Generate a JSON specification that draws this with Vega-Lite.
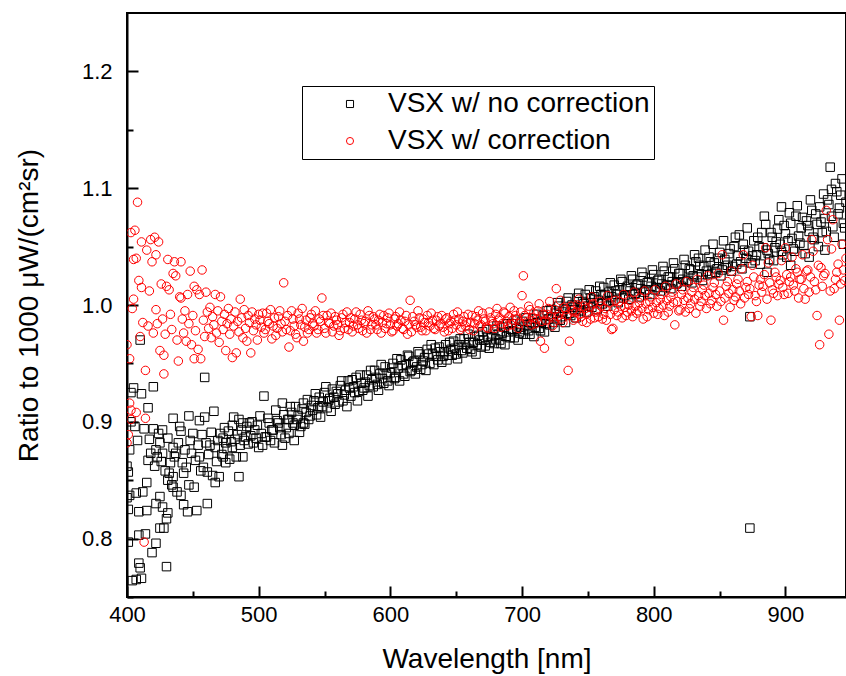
{
"$schema":"https://vega.github.io/schema/vega-lite/v6.json",
"width":719,"height":584,
"autosize":"none",
"padding":{"left":127,"top":13,"right":0,"bottom":79},
"background":"white",
"config":{"view":{"stroke":"black","strokeWidth":2},"font":"Liberation Sans",
"axis":{"grid":false,"domainColor":"black","domainWidth":2,"tickColor":"black","tickWidth":2,"labelFont":"Liberation Sans","labelFontSize":22,"labelColor":"black","titleFont":"Liberation Sans","titleFontSize":28,"titleFontWeight":"normal","titleColor":"black","labelFlush":false,"labelOverlap":false}},
"resolve":{"axis":{"x":"independent","y":"independent"}},
"datasets":{
"nocorr":[
{"w":400,"r":0.835},{"w":400,"r":0.862},{"w":401,"r":0.857},{"w":401,"r":0.825},{"w":401,"r":0.797},{"w":402,"r":0.837},{"w":402,"r":0.876},{"w":403,"r":0.925},{"w":403,"r":0.900},{"w":404,"r":0.764},{"w":405,"r":0.929},{"w":406,"r":0.896},{"w":407,"r":0.839},{"w":407,"r":0.765},{"w":408,"r":0.884},{"w":409,"r":0.823},{"w":409,"r":0.803},{"w":409,"r":0.779},{"w":410,"r":0.970},{"w":410,"r":0.775},{"w":411,"r":0.924},{"w":411,"r":0.766},{"w":412,"r":0.840},{"w":413,"r":0.894},{"w":414,"r":0.804},{"w":415,"r":0.824},{"w":415,"r":0.848},{"w":416,"r":0.912},{"w":416,"r":0.867},{"w":417,"r":0.885},{"w":418,"r":0.873},{"w":419,"r":0.788},{"w":420,"r":0.930},{"w":420,"r":0.894},{"w":421,"r":0.862},{"w":422,"r":0.830},{"w":422,"r":0.876},{"w":422,"r":0.796},{"w":423,"r":0.870},{"w":424,"r":0.890},{"w":425,"r":0.882},{"w":425,"r":0.836},{"w":425,"r":0.809},{"w":426,"r":0.866},{"w":427,"r":0.893},{"w":427,"r":0.873},{"w":427,"r":0.827},{"w":428,"r":0.809},{"w":429,"r":0.858},{"w":430,"r":0.817},{"w":430,"r":0.776},{"w":431,"r":0.886},{"w":431,"r":0.850},{"w":431,"r":0.822},{"w":432,"r":0.856},{"w":433,"r":0.865},{"w":434,"r":0.846},{"w":435,"r":0.903},{"w":435,"r":0.878},{"w":435,"r":0.853},{"w":435,"r":0.844},{"w":436,"r":0.870},{"w":437,"r":0.873},{"w":438,"r":0.840},{"w":439,"r":0.882},{"w":440,"r":0.896},{"w":441,"r":0.892},{"w":441,"r":0.837},{"w":442,"r":0.865},{"w":443,"r":0.856},{"w":443,"r":0.829},{"w":444,"r":0.876},{"w":445,"r":0.861},{"w":446,"r":0.823},{"w":447,"r":0.905},{"w":447,"r":0.846},{"w":448,"r":0.884},{"w":449,"r":0.873},{"w":450,"r":0.890},{"w":451,"r":0.844},{"w":452,"r":0.867},{"w":453,"r":0.824},{"w":454,"r":0.880},{"w":455,"r":0.901},{"w":455,"r":0.870},{"w":456,"r":0.858},{"w":457,"r":0.889},{"w":458,"r":0.861},{"w":459,"r":0.938},{"w":459,"r":0.904},{"w":460,"r":0.882},{"w":461,"r":0.857},{"w":461,"r":0.830},{"w":462,"r":0.872},{"w":463,"r":0.880},{"w":464,"r":0.891},{"w":465,"r":0.854},{"w":466,"r":0.909},{"w":467,"r":0.878},{"w":467,"r":0.848},{"w":468,"r":0.866},{"w":469,"r":0.884},{"w":470,"r":0.853},{"w":471,"r":0.890},{"w":472,"r":0.872},{"w":473,"r":0.886},{"w":473,"r":0.870},{"w":474,"r":0.895},{"w":475,"r":0.882},{"w":475,"r":0.865},{"w":476,"r":0.877},{"w":477,"r":0.892},{"w":478,"r":0.868},{"w":479,"r":0.883},{"w":480,"r":0.878},{"w":480,"r":0.897},{"w":481,"r":0.904},{"w":482,"r":0.885},{"w":483,"r":0.870},{"w":484,"r":0.889},{"w":485,"r":0.902},{"w":485,"r":0.853},{"w":486,"r":0.880},{"w":487,"r":0.893},{"w":488,"r":0.899},{"w":488,"r":0.870},{"w":489,"r":0.884},{"w":490,"r":0.887},{"w":491,"r":0.896},{"w":492,"r":0.881},{"w":493,"r":0.899},{"w":494,"r":0.888},{"w":495,"r":0.900},{"w":496,"r":0.882},{"w":497,"r":0.893},{"w":498,"r":0.886},{"w":499,"r":0.897},{"w":500,"r":0.878},
{"w":502,"r":0.890},{"w":504,"r":0.922},{"w":506,"r":0.887},{"w":508,"r":0.899},{"w":510,"r":0.893},{"w":512,"r":0.882},{"w":514,"r":0.901},{"w":516,"r":0.895},{"w":518,"r":0.916},{"w":518,"r":0.880},{"w":520,"r":0.886},{"w":522,"r":0.902},{"w":523,"r":0.902},{"w":524,"r":0.913},{"w":526,"r":0.899},{"w":527,"r":0.884},{"w":528,"r":0.913},{"w":530,"r":0.905},{"w":532,"r":0.896},{"w":534,"r":0.916},{"w":534,"r":0.899},{"w":536,"r":0.908},{"w":538,"r":0.902},{"w":540,"r":0.914},
{"w":542,"r":0.918},{"w":544,"r":0.906},{"w":546,"r":0.921},{"w":548,"r":0.913},{"w":550,"r":0.925},{"w":552,"r":0.912},{"w":554,"r":0.920},{"w":556,"r":0.928},{"w":558,"r":0.915},{"w":560,"r":0.924},{"w":562,"r":0.931},{"w":564,"r":0.918},{"w":566,"r":0.927},{"w":568,"r":0.935},{"w":570,"r":0.922},{"w":572,"r":0.930},{"w":574,"r":0.938},{"w":576,"r":0.926},{"w":578,"r":0.933},{"w":580,"r":0.929},{"w":582,"r":0.940},{"w":584,"r":0.931},{"w":586,"r":0.936},{"w":588,"r":0.944},{"w":590,"r":0.932},{"w":592,"r":0.941},{"w":594,"r":0.937},{"w":596,"r":0.947},{"w":598,"r":0.935},{"w":600,"r":0.942},{"w":602,"r":0.950},{"w":604,"r":0.938},{"w":606,"r":0.946},{"w":608,"r":0.953},{"w":610,"r":0.941},{"w":612,"r":0.949},{"w":614,"r":0.956},{"w":616,"r":0.944},{"w":618,"r":0.952},{"w":620,"r":0.947},{"w":622,"r":0.958},{"w":624,"r":0.949},{"w":626,"r":0.955},{"w":628,"r":0.962},{"w":630,"r":0.950},{"w":632,"r":0.958},{"w":634,"r":0.963},{"w":636,"r":0.953},{"w":638,"r":0.960},{"w":640,"r":0.956},{"w":642,"r":0.966},{"w":644,"r":0.957},{"w":646,"r":0.962},{"w":648,"r":0.969},{"w":650,"r":0.958},{"w":652,"r":0.966},{"w":654,"r":0.961},{"w":656,"r":0.971},{"w":658,"r":0.963},{"w":660,"r":0.968},{"w":662,"r":0.960},{"w":664,"r":0.973},{"w":666,"r":0.966},{"w":668,"r":0.970},{"w":670,"r":0.977},{"w":672,"r":0.965},{"w":674,"r":0.973},{"w":676,"r":0.968},{"w":678,"r":0.979},{"w":680,"r":0.971},{"w":682,"r":0.975},{"w":684,"r":0.967},{"w":686,"r":0.981},{"w":688,"r":0.973},{"w":690,"r":0.977},{"w":692,"r":0.984},{"w":694,"r":0.972},{"w":696,"r":0.980},{"w":698,"r":0.976},{"w":700,"r":0.986},{"w":702,"r":0.979},{"w":704,"r":0.983},{"w":706,"r":0.975},{"w":708,"r":0.988},{"w":710,"r":0.981},{"w":712,"r":0.985},{"w":714,"r":0.978},{"w":716,"r":0.991},{"w":718,"r":0.984},{"w":720,"r":0.988},{"w":722,"r":0.996},{"w":724,"r":0.985},{"w":726,"r":0.993},{"w":728,"r":0.999},{"w":730,"r":0.990},{"w":732,"r":0.997},{"w":734,"r":1.003},{"w":736,"r":0.993},{"w":738,"r":1.000},{"w":740,"r":0.996},{"w":742,"r":1.006},{"w":744,"r":0.998},{"w":746,"r":1.003},{"w":748,"r":1.009},{"w":750,"r":0.999},{"w":752,"r":1.006},{"w":754,"r":1.002},{"w":756,"r":1.012},{"w":758,"r":1.004},{"w":760,"r":1.009},{"w":762,"r":1.015},{"w":764,"r":1.003},{"w":766,"r":1.011},{"w":768,"r":1.007},{"w":770,"r":1.017},{"w":772,"r":1.009},{"w":774,"r":1.013},{"w":776,"r":1.020},{"w":778,"r":1.008},{"w":780,"r":1.016},{"w":782,"r":1.012},{"w":784,"r":1.022},{"w":786,"r":1.010},{"w":788,"r":1.018},{"w":790,"r":1.014},{"w":792,"r":1.024},{"w":794,"r":1.013},{"w":796,"r":1.020},{"w":798,"r":1.016},{"w":800,"r":1.026},{"w":802,"r":1.015},{"w":804,"r":1.022},{"w":806,"r":1.018},{"w":808,"r":1.029},{"w":810,"r":1.017},{"w":812,"r":1.024},{"w":814,"r":1.020},{"w":816,"r":1.031},{"w":818,"r":1.019},{"w":820,"r":1.027},{"w":822,"r":1.022},{"w":824,"r":1.034},{"w":826,"r":1.021},{"w":828,"r":1.030},{"w":830,"r":1.025},{"w":832,"r":1.037},{"w":834,"r":1.040},{"w":836,"r":1.026},{"w":838,"r":1.033},{"w":840,"r":1.029},{"w":842,"r":1.041},{"w":844,"r":1.027},{"w":846,"r":1.036},{"w":848,"r":1.031},{"w":850,"r":1.045},{"w":852,"r":1.030},{"w":854,"r":1.039},{"w":856,"r":1.034},{"w":858,"r":1.048},{"w":860,"r":1.033},{"w":862,"r":1.058},{"w":864,"r":1.042},{"w":866,"r":1.037},{"w":868,"r":1.052},{"w":870,"r":1.040},{"w":872,"r":1.046},{"w":873,"r":0.809},{"w":873,"r":0.990},{"w":874,"r":1.036},{"w":876,"r":1.055},{"w":878,"r":1.043},{"w":880,"r":1.050},{"w":882,"r":1.062},{"w":884,"r":1.076},{"w":886,"r":1.047},{"w":886,"r":1.028},{"w":888,"r":1.039},{"w":890,"r":1.058},{"w":892,"r":1.049},{"w":894,"r":1.065},{"w":896,"r":1.052},{"w":897,"r":1.084},{"w":898,"r":1.043},{"w":900,"r":1.061},{"w":902,"r":1.055},{"w":904,"r":1.070},{"w":904,"r":1.034},{"w":906,"r":1.048},{"w":908,"r":1.076},{"w":910,"r":1.059},{"w":912,"r":1.066},{"w":914,"r":1.051},{"w":916,"r":1.072},{"w":918,"r":1.063},{"w":918,"r":1.041},{"w":920,"r":1.081},{"w":922,"r":1.056},{"w":924,"r":1.069},{"w":926,"r":1.084},{"w":928,"r":1.062},{"w":930,"r":1.074},{"w":930,"r":1.047},{"w":932,"r":1.090},{"w":934,"r":1.118},{"w":935,"r":1.099},{"w":936,"r":1.067},{"w":938,"r":1.104},{"w":940,"r":1.078},{"w":942,"r":1.094},{"w":944,"r":1.070},{"w":944,"r":1.052},{"w":946,"r":1.088},
{"w":501,"r":0.905},{"w":503,"r":0.880},{"w":505,"r":0.887},{"w":507,"r":0.903},{"w":509,"r":0.884},{"w":511,"r":0.893},{"w":513,"r":0.910},{"w":515,"r":0.899},{"w":517,"r":0.889},{"w":519,"r":0.906},{"w":521,"r":0.895},{"w":523,"r":0.890},{"w":525,"r":0.908},{"w":527,"r":0.897},{"w":529,"r":0.902},{"w":531,"r":0.891},{"w":533,"r":0.911},{"w":535,"r":0.898},{"w":537,"r":0.919},{"w":539,"r":0.905},{"w":541,"r":0.910},{"w":543,"r":0.924},{"w":545,"r":0.912},{"w":547,"r":0.904},{"w":549,"r":0.917},{"w":551,"r":0.930},{"w":553,"r":0.918},{"w":555,"r":0.909},{"w":557,"r":0.921},{"w":559,"r":0.926},{"w":561,"r":0.917},{"w":563,"r":0.935},{"w":565,"r":0.923},{"w":567,"r":0.913},{"w":569,"r":0.929},{"w":571,"r":0.936},{"w":573,"r":0.925},{"w":575,"r":0.918},{"w":577,"r":0.940},{"w":579,"r":0.927},{"w":581,"r":0.934},{"w":583,"r":0.922},{"w":585,"r":0.944},{"w":587,"r":0.930},{"w":589,"r":0.938},{"w":591,"r":0.927},{"w":593,"r":0.949},{"w":595,"r":0.933},{"w":597,"r":0.941},{"w":599,"r":0.931},{"w":601,"r":0.946},{"w":603,"r":0.937},{"w":605,"r":0.954},{"w":607,"r":0.935},{"w":609,"r":0.948},{"w":611,"r":0.939},{"w":613,"r":0.957},{"w":615,"r":0.943},{"w":617,"r":0.951},{"w":619,"r":0.941},{"w":621,"r":0.960},{"w":623,"r":0.945},{"w":625,"r":0.952},{"w":627,"r":0.944},{"w":629,"r":0.958},{"w":631,"r":0.966},{"w":633,"r":0.949},{"w":635,"r":0.956},{"w":637,"r":0.964},{"w":639,"r":0.951},{"w":641,"r":0.960},{"w":643,"r":0.953},{"w":645,"r":0.968},{"w":647,"r":0.957},{"w":649,"r":0.963},{"w":651,"r":0.954},{"w":653,"r":0.971},{"w":655,"r":0.959},{"w":657,"r":0.966},{"w":659,"r":0.975},{"w":661,"r":0.962},{"w":663,"r":0.968},{"w":665,"r":0.958},{"w":667,"r":0.974},{"w":669,"r":0.964},{"w":671,"r":0.970},{"w":673,"r":0.979},{"w":675,"r":0.963},{"w":677,"r":0.973},{"w":679,"r":0.967},{"w":681,"r":0.982},{"w":683,"r":0.970},{"w":685,"r":0.976},{"w":687,"r":0.966},{"w":689,"r":0.984},{"w":691,"r":0.972},{"w":693,"r":0.978},{"w":695,"r":0.987},{"w":697,"r":0.970},{"w":699,"r":0.981},{"w":701,"r":0.975},{"w":703,"r":0.989},{"w":705,"r":0.978},{"w":707,"r":0.984},{"w":709,"r":0.973},{"w":711,"r":0.992},{"w":713,"r":0.980},{"w":715,"r":0.986},{"w":717,"r":0.977},{"w":719,"r":0.995},{"w":721,"r":0.983},{"w":723,"r":0.990},{"w":725,"r":0.981},{"w":727,"r":1.002},{"w":729,"r":0.987},{"w":731,"r":0.994},{"w":733,"r":0.985},{"w":735,"r":1.006},{"w":737,"r":0.991},{"w":739,"r":0.998},{"w":741,"r":0.989},{"w":743,"r":1.010},{"w":745,"r":0.995},{"w":747,"r":1.001},{"w":749,"r":0.994},{"w":751,"r":1.013},{"w":753,"r":0.998},{"w":755,"r":1.007},{"w":757,"r":0.996},{"w":759,"r":1.016},{"w":761,"r":1.001},{"w":763,"r":1.009},{"w":765,"r":0.999},{"w":767,"r":1.019},{"w":769,"r":1.004},{"w":771,"r":1.012},{"w":773,"r":1.002},{"w":775,"r":1.022},{"w":777,"r":1.006},{"w":779,"r":1.014},{"w":781,"r":1.005},{"w":783,"r":1.025},{"w":785,"r":1.009},{"w":787,"r":1.017},{"w":789,"r":1.007},{"w":791,"r":1.028},{"w":793,"r":1.011},{"w":795,"r":1.019},{"w":797,"r":1.009},{"w":799,"r":1.030},{"w":801,"r":1.013},{"w":803,"r":1.021},{"w":805,"r":1.012},{"w":807,"r":1.033},{"w":809,"r":1.015},{"w":811,"r":1.024},{"w":813,"r":1.014},{"w":815,"r":1.036},{"w":817,"r":1.018},{"w":819,"r":1.027},{"w":821,"r":1.016},{"w":823,"r":1.039},{"w":825,"r":1.020},{"w":827,"r":1.031},{"w":829,"r":1.019},{"w":831,"r":1.043},{"w":833,"r":1.024},{"w":835,"r":1.034},{"w":837,"r":1.021},{"w":839,"r":1.047},{"w":841,"r":1.026},{"w":843,"r":1.037},{"w":845,"r":1.052},{"w":847,"r":1.028},{"w":849,"r":1.040},{"w":851,"r":1.025},{"w":853,"r":1.055},{"w":855,"r":1.032},{"w":857,"r":1.044},{"w":859,"r":1.029},{"w":861,"r":1.050},{"w":863,"r":1.035},{"w":865,"r":1.060},{"w":867,"r":1.031},{"w":869,"r":1.047},{"w":871,"r":1.066},{"w":875,"r":1.042},{"w":877,"r":1.038},{"w":879,"r":1.058},{"w":881,"r":1.035},{"w":883,"r":1.049},{"w":885,"r":1.069},{"w":887,"r":1.044},{"w":889,"r":1.062},{"w":891,"r":1.038},{"w":893,"r":1.054},{"w":895,"r":1.073},{"w":897,"r":1.046},{"w":899,"r":1.068},{"w":901,"r":1.041},{"w":903,"r":1.079},{"w":905,"r":1.057},{"w":907,"r":1.046},{"w":909,"r":1.085},{"w":911,"r":1.053},{"w":913,"r":1.075},{"w":915,"r":1.044},{"w":917,"r":1.068},{"w":919,"r":1.090},{"w":921,"r":1.058},{"w":923,"r":1.078},{"w":925,"r":1.050},{"w":927,"r":1.071},{"w":929,"r":1.095},{"w":931,"r":1.063},{"w":933,"r":1.086},{"w":935,"r":1.076},{"w":937,"r":1.058},{"w":939,"r":1.097},{"w":941,"r":1.083},{"w":943,"r":1.108},{"w":945,"r":1.066}
],
"corr":[
{"w":400,"r":0.882},{"w":400,"r":0.966},{"w":401,"r":0.889},{"w":402,"r":0.954},{"w":402,"r":0.916},{"w":403,"r":0.910},{"w":403,"r":0.902},{"w":403,"r":1.062},{"w":404,"r":0.997},{"w":405,"r":1.005},{"w":405,"r":1.039},{"w":406,"r":1.064},{"w":407,"r":1.040},{"w":407,"r":0.908},{"w":408,"r":1.088},{"w":409,"r":1.021},{"w":410,"r":0.973},{"w":411,"r":1.015},{"w":411,"r":1.054},{"w":412,"r":0.985},{"w":413,"r":0.797},{"w":414,"r":0.944},{"w":414,"r":0.903},{"w":415,"r":1.047},{"w":416,"r":0.982},{"w":417,"r":1.012},{"w":418,"r":1.056},{"w":419,"r":1.037},{"w":420,"r":0.976},{"w":421,"r":1.058},{"w":422,"r":1.043},{"w":422,"r":0.996},{"w":423,"r":0.984},{"w":424,"r":1.054},{"w":425,"r":0.961},{"w":426,"r":1.018},{"w":427,"r":0.988},{"w":428,"r":0.941},{"w":428,"r":0.957},{"w":429,"r":0.975},{"w":430,"r":1.016},{"w":431,"r":1.039},{"w":432,"r":1.013},{"w":433,"r":0.992},{"w":434,"r":0.979},{"w":435,"r":1.027},{"w":436,"r":1.037},{"w":437,"r":1.025},{"w":438,"r":0.970},{"w":439,"r":0.952},{"w":440,"r":1.007},{"w":441,"r":1.037},{"w":441,"r":1.006},{"w":442,"r":0.988},{"w":443,"r":0.976},{"w":444,"r":0.995},{"w":445,"r":0.969},{"w":446,"r":1.009},{"w":447,"r":0.984},{"w":448,"r":1.029},{"w":449,"r":0.966},{"w":450,"r":0.991},{"w":451,"r":1.016},{"w":451,"r":0.954},{"w":452,"r":0.978},{"w":453,"r":1.013},{"w":454,"r":0.962},{"w":455,"r":1.009},{"w":456,"r":0.954},{"w":457,"r":1.030},{"w":458,"r":0.987},{"w":459,"r":0.973},{"w":460,"r":1.011},{"w":461,"r":0.994},{"w":462,"r":0.980},{"w":463,"r":0.998},{"w":464,"r":0.972},{"w":465,"r":0.990},{"w":466,"r":0.983},{"w":467,"r":1.009},{"w":468,"r":0.976},{"w":469,"r":0.995},{"w":470,"r":0.968},{"w":471,"r":1.007},{"w":472,"r":0.986},{"w":473,"r":0.979},{"w":474,"r":0.992},{"w":475,"r":0.961},{"w":476,"r":0.984},{"w":477,"r":0.997},{"w":478,"r":0.975},{"w":479,"r":0.988},{"w":480,"r":0.955},{"w":481,"r":0.982},{"w":482,"r":0.994},{"w":483,"r":0.959},{"w":484,"r":0.986},{"w":485,"r":0.977},{"w":486,"r":1.005},{"w":487,"r":0.989},{"w":488,"r":0.972},{"w":489,"r":0.996},{"w":490,"r":0.980},{"w":491,"r":0.969},{"w":492,"r":0.991},{"w":493,"r":0.985},{"w":494,"r":0.959},{"w":495,"r":0.994},{"w":496,"r":0.978},{"w":497,"r":0.988},{"w":498,"r":0.983},{"w":499,"r":0.970},{"w":500,"r":0.992},
{"w":502,"r":0.981},{"w":504,"r":0.976},{"w":506,"r":0.993},{"w":508,"r":0.984},{"w":510,"r":0.971},{"w":512,"r":0.989},{"w":514,"r":0.980},{"w":516,"r":0.995},{"w":518,"r":0.977},{"w":519,"r":1.019},{"w":520,"r":0.986},{"w":522,"r":0.991},{"w":523,"r":0.964},{"w":524,"r":0.978},{"w":526,"r":0.988},{"w":528,"r":0.975},{"w":530,"r":0.993},{"w":532,"r":0.983},{"w":534,"r":0.969},{"w":536,"r":0.987},{"w":538,"r":0.979},{"w":540,"r":0.992},{"w":542,"r":0.982},{"w":544,"r":0.976},{"w":546,"r":0.988},{"w":548,"r":1.006},{"w":550,"r":0.980},{"w":552,"r":0.991},{"w":554,"r":0.984},{"w":556,"r":0.977},{"w":558,"r":0.990},{"w":560,"r":0.983},{"w":562,"r":0.978},{"w":564,"r":0.992},{"w":566,"r":0.985},{"w":568,"r":0.979},{"w":570,"r":0.989},{"w":572,"r":0.982},{"w":574,"r":0.994},{"w":576,"r":0.980},{"w":578,"r":0.987},{"w":580,"r":0.984},{"w":582,"r":0.976},{"w":584,"r":0.991},{"w":586,"r":0.983},{"w":588,"r":0.988},{"w":590,"r":0.979},{"w":592,"r":0.992},{"w":594,"r":0.985},{"w":596,"r":0.980},{"w":598,"r":0.989},{"w":600,"r":0.983},{"w":602,"r":0.978},{"w":604,"r":0.990},{"w":606,"r":0.984},{"w":608,"r":0.987},{"w":610,"r":0.979},{"w":612,"r":0.991},{"w":614,"r":0.983},{"w":615,"r":1.004},{"w":616,"r":0.977},{"w":618,"r":0.986},{"w":620,"r":0.981},{"w":622,"r":0.989},{"w":624,"r":0.978},{"w":626,"r":0.985},{"w":628,"r":0.991},{"w":630,"r":0.982},{"w":632,"r":0.987},{"w":634,"r":0.979},{"w":636,"r":0.990},{"w":638,"r":0.984},{"w":640,"r":0.981},{"w":642,"r":0.988},{"w":644,"r":0.978},{"w":646,"r":0.986},{"w":648,"r":0.992},{"w":650,"r":0.983},{"w":652,"r":0.988},{"w":654,"r":0.981},{"w":656,"r":0.990},{"w":658,"r":0.985},{"w":660,"r":0.979},{"w":662,"r":0.991},{"w":664,"r":0.984},{"w":666,"r":0.987},{"w":668,"r":0.982},{"w":670,"r":0.993},{"w":672,"r":0.986},{"w":674,"r":0.980},{"w":676,"r":0.989},{"w":678,"r":0.984},{"w":680,"r":0.992},{"w":682,"r":0.987},{"w":684,"r":0.981},{"w":686,"r":0.994},{"w":688,"r":0.986},{"w":690,"r":0.990},{"w":692,"r":0.983},{"w":694,"r":0.995},{"w":696,"r":0.988},{"w":698,"r":0.984},{"w":700,"r":1.008},{"w":701,"r":1.025},{"w":702,"r":0.991},{"w":704,"r":0.986},{"w":706,"r":0.996},{"w":708,"r":0.989},{"w":710,"r":0.984},{"w":712,"r":0.995},{"w":714,"r":0.969},{"w":716,"r":0.992},{"w":717,"r":0.963},{"w":718,"r":0.987},{"w":720,"r":0.997},{"w":722,"r":0.990},{"w":724,"r":0.985},{"w":726,"r":1.014},{"w":728,"r":0.993},{"w":730,"r":0.988},{"w":732,"r":0.998},{"w":734,"r":0.991},{"w":735,"r":0.944},{"w":736,"r":0.969},{"w":738,"r":0.995},{"w":740,"r":0.989},{"w":742,"r":1.000},{"w":744,"r":0.992},{"w":746,"r":0.986},{"w":748,"r":0.997},{"w":750,"r":0.993},{"w":752,"r":0.988},{"w":754,"r":1.001},{"w":756,"r":0.994},{"w":758,"r":0.990},{"w":760,"r":0.999},{"w":762,"r":0.992},{"w":764,"r":0.987},{"w":766,"r":1.002},{"w":768,"r":0.979},{"w":770,"r":0.996},{"w":772,"r":0.991},{"w":774,"r":1.003},{"w":776,"r":0.989},{"w":778,"r":0.998},{"w":780,"r":0.994},{"w":782,"r":1.004},{"w":784,"r":0.990},{"w":786,"r":0.999},{"w":788,"r":0.995},{"w":790,"r":1.006},{"w":792,"r":0.988},{"w":794,"r":1.001},{"w":796,"r":0.996},{"w":798,"r":1.007},{"w":800,"r":0.993},{"w":802,"r":1.002},{"w":804,"r":0.997},{"w":806,"r":1.009},{"w":808,"r":0.991},{"w":810,"r":1.004},{"w":812,"r":0.999},{"w":814,"r":1.011},{"w":816,"r":0.983},{"w":818,"r":1.003},{"w":820,"r":0.996},{"w":822,"r":1.013},{"w":824,"r":0.994},{"w":826,"r":1.006},{"w":828,"r":1.001},{"w":830,"r":1.015},{"w":832,"r":0.993},{"w":834,"r":1.008},{"w":836,"r":1.003},{"w":838,"r":1.017},{"w":840,"r":0.997},{"w":842,"r":1.010},{"w":844,"r":1.004},{"w":846,"r":1.019},{"w":848,"r":0.999},{"w":850,"r":1.012},{"w":852,"r":1.043},{"w":853,"r":0.987},{"w":854,"r":1.006},{"w":856,"r":1.020},{"w":858,"r":0.998},{"w":860,"r":1.013},{"w":862,"r":1.007},{"w":864,"r":1.022},{"w":866,"r":1.001},{"w":868,"r":1.043},{"w":870,"r":1.015},{"w":872,"r":1.009},{"w":874,"r":0.990},{"w":876,"r":1.024},{"w":878,"r":1.003},{"w":879,"r":0.991},{"w":880,"r":1.017},{"w":882,"r":1.011},{"w":884,"r":1.026},{"w":885,"r":1.049},{"w":886,"r":1.005},{"w":888,"r":1.019},{"w":889,"r":0.987},{"w":890,"r":1.013},{"w":892,"r":1.028},{"w":894,"r":1.008},{"w":896,"r":1.021},{"w":898,"r":1.015},{"w":900,"r":1.049},{"w":902,"r":1.010},{"w":904,"r":1.024},{"w":906,"r":1.017},{"w":908,"r":1.031},{"w":910,"r":1.006},{"w":912,"r":1.022},{"w":914,"r":1.014},{"w":916,"r":1.029},{"w":918,"r":1.011},{"w":920,"r":1.056},{"w":922,"r":1.020},{"w":924,"r":0.991},{"w":925,"r":1.034},{"w":926,"r":0.966},{"w":928,"r":1.016},{"w":930,"r":1.027},{"w":931,"r":1.081},{"w":932,"r":1.056},{"w":933,"r":0.975},{"w":934,"r":1.012},{"w":936,"r":1.073},{"w":938,"r":1.022},{"w":940,"r":1.035},{"w":941,"r":0.987},{"w":942,"r":1.018},{"w":944,"r":1.030},{"w":946,"r":1.040},
{"w":501,"r":0.987},{"w":503,"r":0.993},{"w":505,"r":0.979},{"w":507,"r":0.986},{"w":509,"r":0.996},{"w":511,"r":0.982},{"w":513,"r":0.974},{"w":515,"r":0.990},{"w":517,"r":0.984},{"w":521,"r":0.979},{"w":525,"r":0.995},{"w":527,"r":0.982},{"w":529,"r":0.972},{"w":531,"r":0.988},{"w":533,"r":0.997},{"w":535,"r":0.981},{"w":537,"r":0.976},{"w":539,"r":0.989},{"w":541,"r":0.984},{"w":543,"r":0.995},{"w":545,"r":0.979},{"w":547,"r":0.986},{"w":549,"r":0.991},{"w":551,"r":0.976},{"w":553,"r":0.985},{"w":555,"r":0.993},{"w":557,"r":0.982},{"w":559,"r":0.987},{"w":561,"r":0.974},{"w":563,"r":0.989},{"w":565,"r":0.980},{"w":567,"r":0.994},{"w":569,"r":0.985},{"w":571,"r":0.977},{"w":573,"r":0.988},{"w":575,"r":0.983},{"w":577,"r":0.992},{"w":579,"r":0.978},{"w":581,"r":0.986},{"w":583,"r":0.995},{"w":585,"r":0.979},{"w":587,"r":0.990},{"w":589,"r":0.983},{"w":591,"r":0.987},{"w":593,"r":0.976},{"w":595,"r":0.991},{"w":597,"r":0.984},{"w":599,"r":0.993},{"w":601,"r":0.977},{"w":603,"r":0.988},{"w":605,"r":0.982},{"w":607,"r":0.994},{"w":609,"r":0.980},{"w":611,"r":0.986},{"w":613,"r":0.975},{"w":617,"r":0.990},{"w":619,"r":0.983},{"w":621,"r":0.995},{"w":623,"r":0.981},{"w":625,"r":0.988},{"w":627,"r":0.978},{"w":629,"r":0.985},{"w":631,"r":0.993},{"w":633,"r":0.980},{"w":635,"r":0.987},{"w":637,"r":0.982},{"w":639,"r":0.991},{"w":641,"r":0.977},{"w":643,"r":0.989},{"w":645,"r":0.984},{"w":647,"r":0.980},{"w":649,"r":0.987},{"w":651,"r":0.994},{"w":653,"r":0.979},{"w":655,"r":0.986},{"w":657,"r":0.982},{"w":659,"r":0.992},{"w":661,"r":0.985},{"w":663,"r":0.978},{"w":665,"r":0.990},{"w":667,"r":0.995},{"w":669,"r":0.983},{"w":671,"r":0.988},{"w":673,"r":0.981},{"w":675,"r":0.994},{"w":677,"r":0.986},{"w":679,"r":0.980},{"w":681,"r":0.997},{"w":683,"r":0.989},{"w":685,"r":0.984},{"w":687,"r":0.993},{"w":689,"r":0.982},{"w":691,"r":0.998},{"w":693,"r":0.987},{"w":695,"r":0.991},{"w":697,"r":0.980},{"w":699,"r":0.994},{"w":703,"r":0.989},{"w":705,"r":0.999},{"w":707,"r":0.983},{"w":709,"r":0.993},{"w":711,"r":0.988},{"w":713,"r":1.001},{"w":715,"r":0.986},{"w":719,"r":0.992},{"w":721,"r":1.003},{"w":723,"r":0.982},{"w":725,"r":0.996},{"w":727,"r":0.990},{"w":729,"r":1.004},{"w":731,"r":0.985},{"w":733,"r":0.996},{"w":737,"r":0.999},{"w":739,"r":0.987},{"w":741,"r":0.994},{"w":743,"r":1.005},{"w":745,"r":0.990},{"w":747,"r":0.999},{"w":749,"r":0.985},{"w":751,"r":0.998},{"w":753,"r":1.007},{"w":755,"r":0.989},{"w":757,"r":0.996},{"w":759,"r":1.003},{"w":761,"r":0.988},{"w":763,"r":0.997},{"w":765,"r":1.008},{"w":767,"r":0.992},{"w":769,"r":0.980},{"w":771,"r":1.004},{"w":773,"r":0.994},{"w":775,"r":0.999},{"w":777,"r":1.009},{"w":779,"r":0.991},{"w":781,"r":1.000},{"w":783,"r":0.995},{"w":785,"r":1.011},{"w":787,"r":0.993},{"w":789,"r":1.002},{"w":791,"r":0.997},{"w":793,"r":1.012},{"w":795,"r":0.990},{"w":797,"r":1.003},{"w":799,"r":0.998},{"w":801,"r":1.013},{"w":803,"r":0.992},{"w":805,"r":1.005},{"w":807,"r":1.000},{"w":809,"r":1.016},{"w":811,"r":0.994},{"w":813,"r":1.007},{"w":815,"r":1.002},{"w":817,"r":1.018},{"w":819,"r":0.995},{"w":821,"r":1.009},{"w":823,"r":1.004},{"w":825,"r":1.020},{"w":827,"r":0.997},{"w":829,"r":1.011},{"w":831,"r":1.005},{"w":833,"r":1.022},{"w":835,"r":0.999},{"w":837,"r":1.013},{"w":839,"r":1.008},{"w":841,"r":1.025},{"w":843,"r":1.001},{"w":845,"r":1.015},{"w":847,"r":1.009},{"w":849,"r":1.027},{"w":851,"r":1.003},{"w":855,"r":1.016},{"w":857,"r":1.010},{"w":859,"r":1.029},{"w":861,"r":1.004},{"w":863,"r":1.018},{"w":865,"r":1.012},{"w":867,"r":1.031},{"w":869,"r":1.006},{"w":871,"r":1.020},{"w":873,"r":1.014},{"w":875,"r":1.034},{"w":877,"r":1.008},{"w":881,"r":1.022},{"w":883,"r":1.016},{"w":887,"r":1.036},{"w":891,"r":1.010},{"w":893,"r":1.024},{"w":895,"r":1.018},{"w":897,"r":1.038},{"w":899,"r":1.009},{"w":901,"r":1.026},{"w":903,"r":1.020},{"w":905,"r":1.041},{"w":907,"r":1.012},{"w":909,"r":1.028},{"w":911,"r":1.022},{"w":913,"r":1.043},{"w":915,"r":1.005},{"w":917,"r":1.030},{"w":919,"r":1.024},{"w":921,"r":1.046},{"w":923,"r":1.013},{"w":927,"r":1.032},{"w":929,"r":1.025},{"w":935,"r":1.048},{"w":937,"r":1.014},{"w":939,"r":1.028},{"w":943,"r":1.052},{"w":945,"r":1.021}
]},
"layer":[
{"data":{"name":"nocorr"},
"mark":{"type":"point","filled":false,"size":72,"strokeWidth":1,"opacity":1,"clip":true},
"encoding":{
"x":{"field":"w","type":"quantitative","title":"Wavelength [nm]","scale":{"domain":[400,946],"nice":false,"zero":false},
"axis":{"orient":"bottom","values":[400,500,600,700,800,900],"tickSize":-11,"labelPadding":18,"titlePadding":20}},
"y":{"field":"r","type":"quantitative","title":"Ratio to 1000 μW/(cm²sr)","scale":{"domain":[0.75,1.25],"nice":false,"zero":false},
"axis":{"orient":"left","values":[0.8,0.9,1.0,1.1,1.2],"format":".1f","tickSize":-11,"labelPadding":26,"titlePadding":38}},
"shape":{"datum":"VSX w/ no correction","type":"nominal","scale":{"domain":["VSX w/ no correction","VSX w/ correction"],"range":["square","circle"]},
"legend":{"orient":"none","legendX":175,"legendY":73,"title":null,"strokeColor":"black","fillColor":"white","padding":4,"labelFontSize":28,"labelFont":"Liberation Sans","labelColor":"black","labelLimit":500,"symbolSize":50,"symbolStrokeWidth":1,"symbolOffset":30,"labelOffset":24,"rowPadding":9}},
"stroke":{"datum":"VSX w/ no correction","type":"nominal","scale":{"domain":["VSX w/ no correction","VSX w/ correction"],"range":["black","red"]},
"legend":{"orient":"none","legendX":175,"legendY":73,"title":null,"strokeColor":"black","fillColor":"white","padding":4,"labelFontSize":28,"labelFont":"Liberation Sans","labelColor":"black","labelLimit":500,"symbolSize":50,"symbolStrokeWidth":1,"symbolOffset":30,"labelOffset":24,"rowPadding":9}}
}},
{"data":{"name":"corr"},
"mark":{"type":"point","filled":false,"size":72,"strokeWidth":1,"opacity":1,"clip":true},
"encoding":{
"x":{"field":"w","type":"quantitative","axis":{"orient":"bottom","values":[450,550,650,750,850],"tickSize":-6,"labels":false,"domain":false,"title":null}},
"y":{"field":"r","type":"quantitative","axis":{"orient":"left","values":[0.75,0.85,0.95,1.05,1.15],"tickSize":-6,"labels":false,"domain":false,"title":null}},
"shape":{"datum":"VSX w/ correction","type":"nominal"},
"stroke":{"datum":"VSX w/ correction","type":"nominal"}
}}
]
}
